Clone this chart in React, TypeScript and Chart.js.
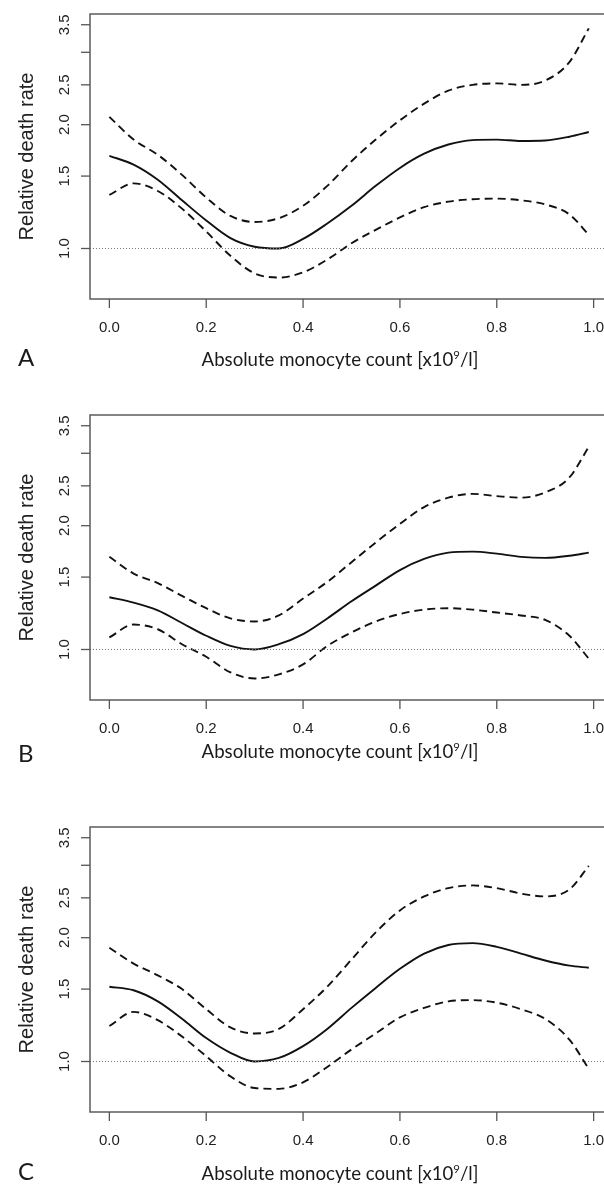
import React, { useEffect, useRef } from "react";
import { Chart, registerables } from "chart.js";

Chart.register(...registerables);

// ---------- data ----------
const xValues = [0, 0.05, 0.1, 0.15, 0.2, 0.25, 0.3, 0.35, 0.4, 0.45, 0.5, 0.55, 0.6, 0.65, 0.7, 0.75, 0.8, 0.85, 0.9, 0.95, 0.99];

const aEstimate = [1.68, 1.60, 1.47, 1.31, 1.17, 1.06, 1.01, 1.0, 1.055, 1.15, 1.27, 1.42, 1.57, 1.70, 1.79, 1.835, 1.84, 1.825, 1.83, 1.87, 1.92];
const aUpper = [2.09, 1.84, 1.69, 1.51, 1.33, 1.20, 1.16, 1.185, 1.27, 1.42, 1.63, 1.84, 2.05, 2.25, 2.42, 2.50, 2.52, 2.50, 2.56, 2.84, 3.43];
const aLower = [1.35, 1.44, 1.38, 1.25, 1.10, 0.96, 0.87, 0.85, 0.875, 0.94, 1.03, 1.11, 1.19, 1.26, 1.30, 1.318, 1.322, 1.31, 1.28, 1.21, 1.08];

const bEstimate = [1.34, 1.30, 1.245, 1.16, 1.08, 1.02, 1.00, 1.03, 1.09, 1.19, 1.31, 1.43, 1.56, 1.66, 1.72, 1.73, 1.71, 1.68, 1.67, 1.69, 1.72];
const bUpper = [1.68, 1.53, 1.45, 1.35, 1.26, 1.19, 1.17, 1.21, 1.33, 1.46, 1.63, 1.82, 2.02, 2.22, 2.34, 2.39, 2.36, 2.34, 2.41, 2.62, 3.11];
const bLower = [1.07, 1.15, 1.12, 1.03, 0.96, 0.88, 0.85, 0.87, 0.92, 1.02, 1.10, 1.17, 1.22, 1.25, 1.26, 1.25, 1.23, 1.21, 1.18, 1.08, 0.95];

const cEstimate = [1.52, 1.49, 1.40, 1.27, 1.14, 1.05, 1.00, 1.02, 1.09, 1.20, 1.35, 1.51, 1.68, 1.83, 1.92, 1.94, 1.90, 1.83, 1.76, 1.71, 1.69];
const cUpper = [1.89, 1.73, 1.62, 1.50, 1.34, 1.21, 1.17, 1.20, 1.34, 1.52, 1.77, 2.06, 2.33, 2.52, 2.64, 2.68, 2.64, 2.56, 2.52, 2.62, 2.99];
const cLower = [1.22, 1.32, 1.26, 1.15, 1.03, 0.92, 0.862, 0.858, 0.89, 0.97, 1.07, 1.17, 1.28, 1.35, 1.40, 1.41, 1.39, 1.34, 1.27, 1.13, 0.96];

const xTickValues = [0, 0.2, 0.4, 0.6, 0.8, 1.0];
const xTickLabels = ["0.0", "0.2", "0.4", "0.6", "0.8", "1.0"];
const yTickValues = [1.0, 1.5, 2.0, 2.5, 3.0, 3.5];
const yTickLabels = ["1.0", "1.5", "2.0", "2.5", "", "3.5"];
const referenceValue = 1;
const xRange = [-0.04, 1.04];
const yRange = [0.7537, 3.717];
const panelLetters = ["A", "B", "C"];
const yAxisTitle = "Relative death rate";
const xAxisTitleParts = ["Absolute monocyte count [x10", "9", "/l]"];

// ---------- layout ----------
const CANVAS_W = 640;
const CANVAS_H = 400;

type PanelProps = {
  letter: string;
  estimate: number[];
  upper: number[];
  lower: number[];
  top: number;
  titleBase: number;
  letterBase: number;
};

function Panel({ letter, estimate, upper, lower, top, titleBase, letterBase }: PanelProps) {
  const ref = useRef<HTMLCanvasElement | null>(null);

  useEffect(() => {
    if (!ref.current) return;
    const toPts = (arr: number[]) => xValues.map((x, i) => ({ x, y: arr[i] }));

    const axesPlugin = {
      id: "rStyleAxes",
      afterDatasetsDraw(chart: any) {
        const { ctx, chartArea: ca, scales } = chart;
        const xs = scales.x;
        const ys = scales.y;
        ctx.save();
        ctx.strokeStyle = "#5c5c5c";
        ctx.lineWidth = 1.5;
        ctx.setLineDash([]);
        ctx.beginPath();
        ctx.moveTo(ca.right + 2, ca.top);
        ctx.lineTo(ca.left, ca.top);
        ctx.lineTo(ca.left, ca.bottom);
        ctx.lineTo(ca.right + 2, ca.bottom);
        ctx.stroke();

        ctx.fillStyle = "#222";
        ctx.strokeStyle = "#555";
        ctx.lineWidth = 1.3;
        ctx.font = '15px "Liberation Sans", Arial, sans-serif';
        ctx.textAlign = "center";
        ctx.textBaseline = "alphabetic";
        xTickValues.forEach((v, i) => {
          const px = xs.getPixelForValue(v);
          ctx.beginPath();
          ctx.moveTo(px, ca.bottom);
          ctx.lineTo(px, ca.bottom + 9);
          ctx.stroke();
          ctx.fillText(xTickLabels[i], px, ca.bottom + 33);
        });
        yTickValues.forEach((v, i) => {
          const py = ys.getPixelForValue(v);
          ctx.beginPath();
          ctx.moveTo(ca.left - 9, py);
          ctx.lineTo(ca.left, py);
          ctx.stroke();
          if (yTickLabels[i]) {
            ctx.save();
            ctx.translate(ca.left - 21, py);
            ctx.rotate(-Math.PI / 2);
            ctx.fillText(yTickLabels[i], 0, 0);
            ctx.restore();
          }
        });
        ctx.save();
        ctx.font = '20px "Liberation Sans", Arial, sans-serif';
        ctx.translate(33, (ca.top + ca.bottom) / 2);
        ctx.rotate(-Math.PI / 2);
        ctx.fillText(yAxisTitle, 0, 0);
        ctx.restore();

        const family = 'Lato, "Open Sans", sans-serif';
        ctx.font = `18px ${family}`;
        const w0 =
          ctx.measureText(xAxisTitleParts[0]).width +
          ctx.measureText(xAxisTitleParts[2]).width;
        ctx.font = `11px ${family}`;
        const ws0 = ctx.measureText(xAxisTitleParts[1]).width;
        const scale = 277 / (w0 + ws0);
        const fs = 18 * scale;
        const sfs = 11 * scale;
        ctx.font = `${fs}px ${family}`;
        const p0 = ctx.measureText(xAxisTitleParts[0]).width;
        const p2 = ctx.measureText(xAxisTitleParts[2]).width;
        ctx.font = `${sfs}px ${family}`;
        const p1 = ctx.measureText(xAxisTitleParts[1]).width;
        const total = p0 + p1 + p2;
        let cx = 340 - total / 2;
        ctx.textAlign = "left";
        ctx.fillStyle = "#1a1a1a";
        ctx.font = `${fs}px ${family}`;
        ctx.fillText(xAxisTitleParts[0], cx, titleBase);
        cx += p0;
        ctx.font = `${sfs}px ${family}`;
        ctx.fillText(xAxisTitleParts[1], cx, titleBase - fs * 0.38);
        cx += p1;
        ctx.font = `${fs}px ${family}`;
        ctx.fillText(xAxisTitleParts[2], cx, titleBase);

        ctx.font = `24px ${family}`;
        ctx.fillText(letter, 18, letterBase);
        ctx.restore();
      },
    };

    const curve = {
      borderColor: "#111",
      borderWidth: 1.9,
      pointRadius: 0,
      cubicInterpolationMode: "monotone" as const,
    };

    const chart = new Chart(ref.current, {
      type: "line",
      data: {
        datasets: [
          {
            data: [
              { x: xRange[0], y: referenceValue },
              { x: xRange[1], y: referenceValue },
            ],
            borderColor: "#777",
            borderWidth: 1,
            borderDash: [1, 2],
            pointRadius: 0,
          },
          { ...curve, data: toPts(upper), borderDash: [8, 5] },
          { ...curve, data: toPts(lower), borderDash: [8, 5] },
          { ...curve, data: toPts(estimate) },
        ],
      },
      options: {
        animation: false,
        responsive: false,
        maintainAspectRatio: false,
        layout: { padding: { left: 90, top: 14, right: 27, bottom: 101 } },
        plugins: { legend: { display: false }, tooltip: { enabled: false } },
        scales: {
          x: { type: "linear", min: xRange[0], max: xRange[1], bounds: "data", display: false },
          y: { type: "logarithmic", min: yRange[0], max: yRange[1], bounds: "data", display: false },
        },
      },
      plugins: [axesPlugin],
    });
    return () => chart.destroy();
  }, [letter, estimate, upper, lower, titleBase, letterBase]);

  return (
    <canvas
      ref={ref}
      width={CANVAS_W}
      height={CANVAS_H}
      style={{ position: "absolute", left: 0, top, width: CANVAS_W, height: CANVAS_H }}
    />
  );
}

export default function App() {
  return (
    <div
      style={{
        position: "absolute",
        left: 0,
        top: 0,
        width: 604,
        height: 1185,
        overflow: "hidden",
        background: "#fff",
      }}
    >
      <Panel letter={panelLetters[0]} estimate={aEstimate} upper={aUpper} lower={aLower} top={0} titleBase={366} letterBase={366} />
      <Panel letter={panelLetters[1]} estimate={bEstimate} upper={bUpper} lower={bLower} top={401} titleBase={357} letterBase={361} />
      <Panel letter={panelLetters[2]} estimate={cEstimate} upper={cUpper} lower={cLower} top={813} titleBase={367} letterBase={367} />
    </div>
  );
}
